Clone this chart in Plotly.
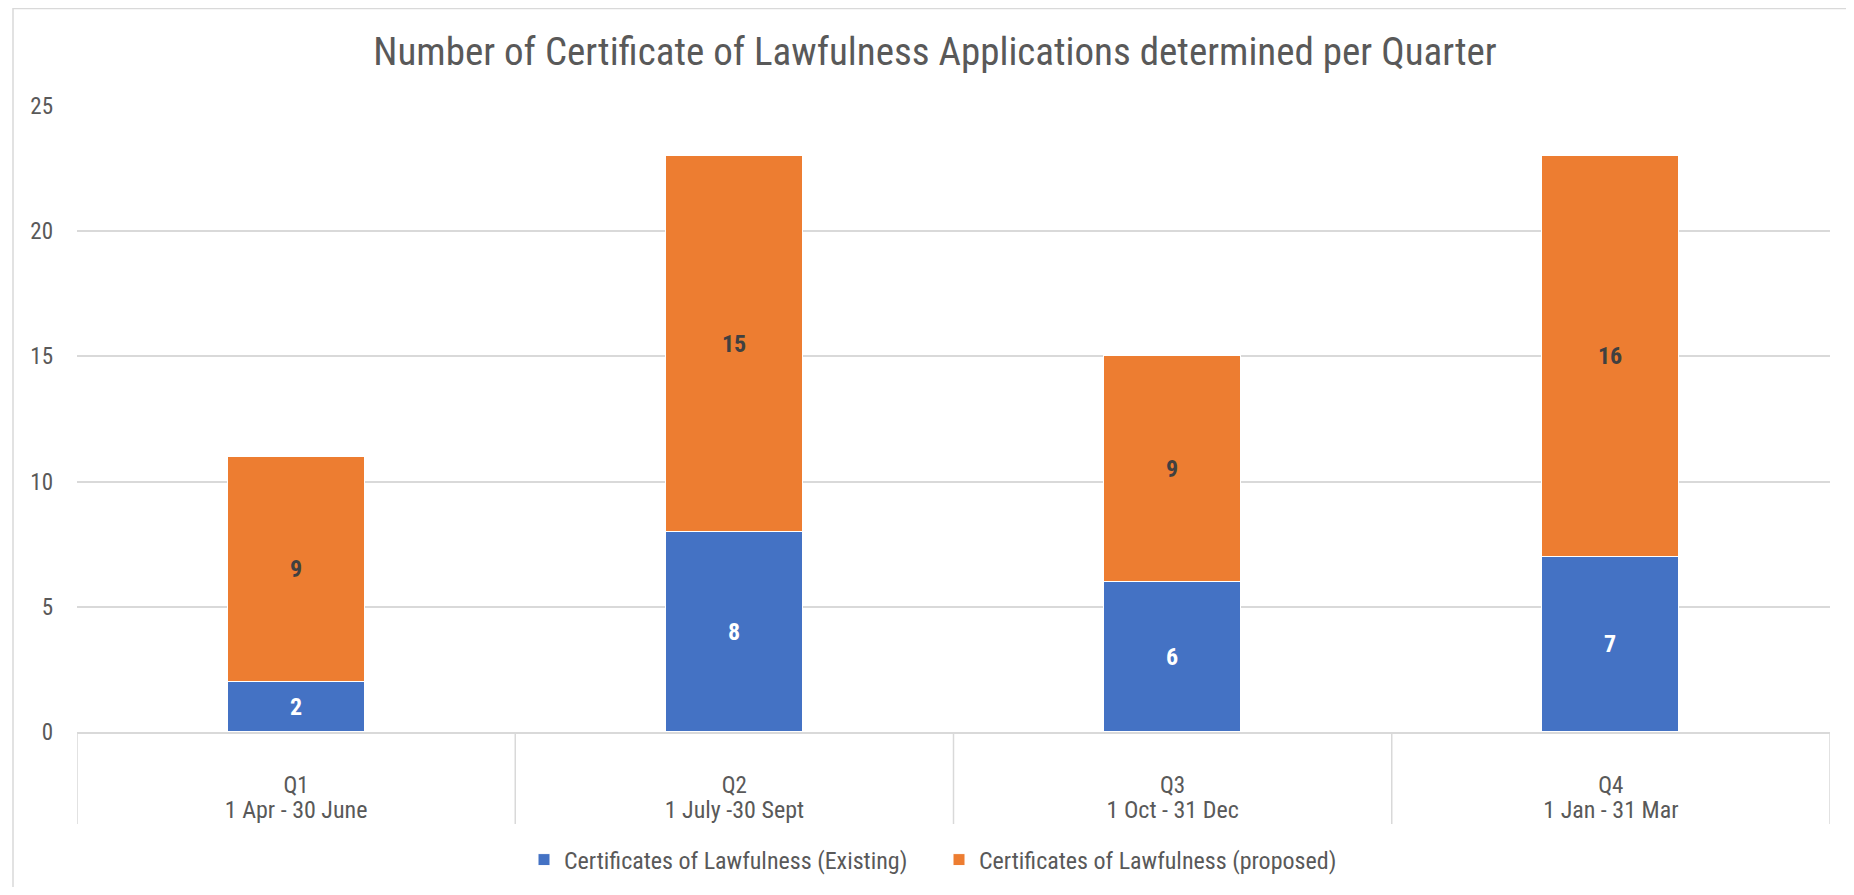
import plotly.graph_objects as go

quarters = ["Q1", "Q2", "Q3", "Q4"]
periods = ["1 Apr - 30 June", "1 July -30 Sept", "1 Oct - 31 Dec", "1 Jan - 31 Mar"]
existing = [2, 8, 6, 7]
proposed = [9, 15, 9, 16]
series_names = ["Certificates of Lawfulness (Existing)", "Certificates of Lawfulness (proposed)"]
y_ticks = [0, 5, 10, 15, 20, 25]
title_text = "Number of Certificate of Lawfulness Applications determined per Quarter"

FONT = "Liberation Sans Narrow, Roboto Condensed, Liberation Sans, sans-serif"
GREY = "#595959"
LINE = "#d9d9d9"

OFF = 8  # page body margin
W, H = 1838, 879
L, T = 77 - OFF, 106 - OFF
R = W - (1830 - OFF)
B = H - (732 - OFF)
pw, ph = W - L - R, H - T - B

def py(screen_y):
    return (H - B - (screen_y - OFF)) / ph

def px(screen_x):
    return ((screen_x - OFF) - L) / pw

fig = go.Figure()
fig.add_trace(go.Bar(
    x=quarters, y=existing, name=series_names[0],
    marker=dict(color="#4472C4", line=dict(color="white", width=1)),
    text=existing, textposition="inside", insidetextanchor="middle",
    textfont=dict(family=FONT, size=24, color="white", weight="bold"),
    width=0.313,
))
fig.add_trace(go.Bar(
    x=quarters, y=proposed, name=series_names[1],
    marker=dict(color="#ED7D31", line=dict(color="white", width=1)),
    text=proposed, textposition="inside", insidetextanchor="middle",
    textfont=dict(family=FONT, size=24, color="#404040", weight="bold"),
    width=0.313,
))
# invisible trace to carry the second category-label axis
fig.add_trace(go.Scatter(x=[0, 1, 2, 3], y=[0, 0, 0, 0], xaxis="x2", mode="markers",
                         marker=dict(opacity=0), showlegend=False, hoverinfo="skip"))

shapes = []
for b in [-0.5, 0.5, 1.5, 2.5, 3.5]:
    shapes.append(dict(type="line", xref="x", yref="paper", x0=b, x1=b,
                       y0=0, y1=py(824), line=dict(color=LINE, width=1.5)))
shapes.append(dict(type="rect", xref="paper", yref="paper",
                   x0=px(13), x1=px(1900), y0=(H - B - 0.5) / ph, y1=py(960),
                   line=dict(color=LINE, width=1.5), layer="below"))

fig.update_layout(
    width=W, height=H,
    margin=dict(l=L, r=R, t=T, b=B, autoexpand=False),
    barmode="stack",
    plot_bgcolor="white", paper_bgcolor="white",
    font=dict(family=FONT, color=GREY, size=23),
    title=dict(text=title_text, xref="paper", x=px(935), xanchor="center",
               y=1 - (51 - OFF) / H, yanchor="middle",
               font=dict(family=FONT, size=39, color=GREY)),
    xaxis=dict(type="category", range=[-0.5, 3.5], showgrid=False, showline=True,
               linecolor=LINE, linewidth=1.5, ticks="", ticklabelstandoff=32,
               tickfont=dict(size=23, color=GREY)),
    xaxis2=dict(overlaying="x", anchor="y", side="bottom", range=[-0.5, 3.5],
                tickmode="array", tickvals=[0, 1, 2, 3], ticktext=periods,
                showgrid=False, showline=False, zeroline=False, ticks="",
                ticklabelstandoff=61, tickfont=dict(size=24, color=GREY)),
    yaxis=dict(range=[0, 25], tickvals=y_ticks, showgrid=True, gridcolor=LINE, gridwidth=1.5,
               zeroline=False, showline=False, ticks="", ticklabelstandoff=23,
               tickfont=dict(size=23, color=GREY)),
    legend=dict(orientation="h", xref="paper", x=px(524), xanchor="left",
                y=py(860), yanchor="middle", entrywidth=370, entrywidthmode="pixels",
                font=dict(size=24, color=GREY), traceorder="normal"),
    shapes=shapes,
    showlegend=True,
    bargap=0,
)

fig.write_html("out.html")
